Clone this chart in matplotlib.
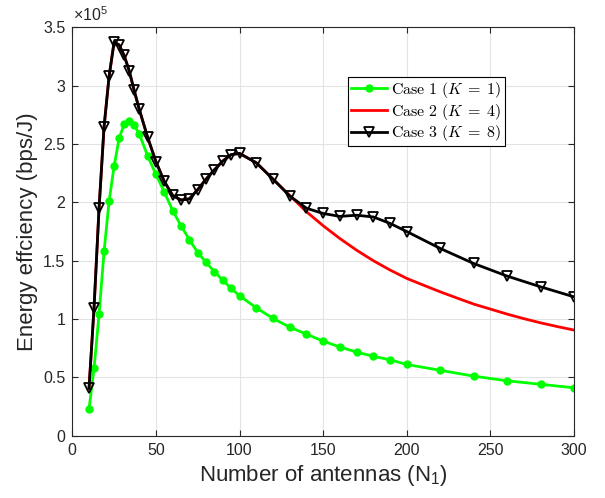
import matplotlib
matplotlib.use("Agg")
import matplotlib.pyplot as plt
from matplotlib.font_manager import FontProperties
from matplotlib.ticker import FuncFormatter, MultipleLocator
import numpy as np

plt.rcParams['font.family'] = ['Liberation Sans', 'DejaVu Sans']
plt.rcParams['mathtext.fontset'] = 'custom'
plt.rcParams['mathtext.rm'] = 'Liberation Sans'
plt.rcParams['mathtext.it'] = 'Liberation Sans:italic'

# Data (energy efficiency in units of 1e5 bps/J)
n_case1 = [10, 13, 16, 19, 22, 25, 28, 31, 34, 37, 40, 45, 50, 55, 60, 65, 70, 75, 80,
           85, 90, 95, 100, 110, 120, 130, 140, 150, 160, 170, 180, 190, 200,
           220, 240, 260, 280, 300]
ee_case1 = [0.228, 0.577, 1.04, 1.58, 2.01, 2.31, 2.55, 2.67, 2.70, 2.66, 2.59, 2.40,
            2.24, 2.09, 1.93, 1.80, 1.68, 1.57, 1.485, 1.405, 1.333, 1.262, 1.199,
            1.096, 1.005, 0.93, 0.87, 0.81, 0.76, 0.716, 0.68, 0.65, 0.61,
            0.56, 0.51, 0.47, 0.44, 0.41]

n_case2 = [10, 13, 16, 19, 22, 25, 28, 31, 34, 37, 40, 45, 50, 55, 60, 65, 70, 75, 80,
           85, 90, 95, 100, 110, 120, 130, 140, 150, 160, 170, 180, 190, 200, 210,
           220, 230, 240, 250, 260, 270, 280, 290, 300]
ee_case2 = [0.405, 1.096, 1.95, 2.65, 3.08, 3.375, 3.35, 3.26, 3.13, 2.96, 2.80, 2.56,
            2.35, 2.18, 2.06, 2.02, 2.03, 2.11, 2.20, 2.28, 2.355, 2.41, 2.42, 2.34,
            2.20, 2.06, 1.92, 1.80, 1.69, 1.59, 1.50, 1.42, 1.348, 1.29, 1.233,
            1.18, 1.128, 1.085, 1.042, 1.003, 0.967, 0.935, 0.905]

n_case3 = [10, 13, 16, 19, 22, 25, 28, 31, 34, 37, 40, 45, 50, 55, 60, 65, 70, 75, 80,
           85, 90, 95, 100, 110, 120, 130, 140, 150, 160, 170, 180, 190, 200,
           220, 240, 260, 280, 300]
ee_case3 = [0.405, 1.096, 1.95, 2.65, 3.08, 3.375, 3.35, 3.26, 3.13, 2.96, 2.80, 2.56,
            2.35, 2.18, 2.06, 2.02, 2.03, 2.11, 2.20, 2.28, 2.355, 2.41, 2.42, 2.34,
            2.20, 2.055, 1.95, 1.905, 1.88, 1.89, 1.875, 1.82, 1.75,
            1.605, 1.476, 1.368, 1.276, 1.19]

scale = 1e5

fig = plt.figure(figsize=(6.05, 4.98), dpi=100)
ax = fig.add_axes([0.1195, 0.1253, 0.8293, 0.8195])

ax.plot(n_case1, np.array(ee_case1) * scale, '-o', color=(0, 1, 0), lw=2,
        markersize=5, label=r'$\mathrm{Case\ 1\ (}K\;=\;1\mathrm{)}$')
ax.plot(n_case2, np.array(ee_case2) * scale, '-', color=(1, 0, 0), lw=2,
        label=r'$\mathrm{Case\ 2\ (}K\;=\;4\mathrm{)}$')
ax.plot(n_case3, np.array(ee_case3) * scale, '-v', color='black', lw=2,
        markersize=6.5, mfc='none', mec='black', mew=1.3,
        label=r'$\mathrm{Case\ 3\ (}K\;=\;8\mathrm{)}$')

ax.set_xlim(0, 300)
ax.set_ylim(0, 3.5 * scale)
ax.xaxis.set_major_locator(MultipleLocator(50))
ax.yaxis.set_major_locator(MultipleLocator(0.5 * scale))
ax.yaxis.set_major_formatter(FuncFormatter(lambda v, _: f'{v / scale:g}'))
ax.text(0.002, 1.008, r'$\times10^5$', transform=ax.transAxes, fontsize=11.5,
        color='#262626', ha='left', va='bottom')

ax.grid(True, color='#e3e3e3', lw=0.8)
ax.set_axisbelow(True)
ax.tick_params(direction='in', length=4, width=0.8, top=True, right=True,
               labelsize=11.5, colors='#262626', pad=5)
for s in ax.spines.values():
    s.set_color('#262626')
    s.set_linewidth(0.8)

ax.set_xlabel(r'Number of antennas (N$_\mathrm{1}$)', fontsize=16, color='#262626')
ax.set_ylabel('Energy effciency (bps/J)', fontsize=16, color='#262626')

leg_font = FontProperties(size=11.5, math_fontfamily='cm')
leg = ax.legend(loc='upper left', bbox_to_anchor=(0.55, 0.879), prop=leg_font,
                frameon=True, fancybox=False, edgecolor='black', framealpha=1,
                handlelength=2.2, borderaxespad=0, borderpad=0.2, labelspacing=0.1,
                handletextpad=0.3)
leg.get_frame().set_linewidth(0.8)

fig.savefig('out.png', dpi=100)
